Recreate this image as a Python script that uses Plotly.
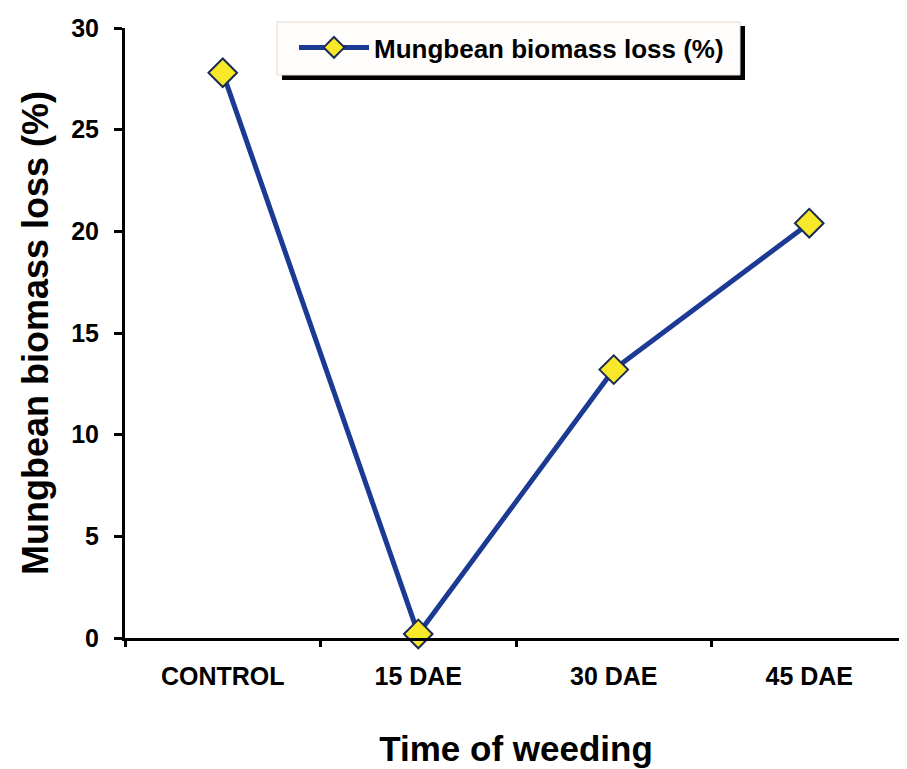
import plotly.graph_objects as go

categories = ["CONTROL", "15 DAE", "30 DAE", "45 DAE"]
biomass_loss = [27.8, 0.2, 13.2, 20.4]
y_ticks = [0, 5, 10, 15, 20, 25, 30]
series_name = "Mungbean biomass loss (%)"

FONT = "Liberation Sans, Arial, sans-serif"

# The page body adds an 8px offset; figure coordinates = screen - 8
OFF = 8
W, H = 907, 769
L = 125 - OFF          # y axis at screen x=125
T = 28 - OFF           # y=30 at screen y=28
B = H - (638 - OFF)    # y=0 at screen y=638
R = OFF                # plot reaches right edge of window
PW = W - L - R
PH = H - T - B


def px(xs):
    return (xs - OFF - L) / PW


def py(ys):
    return (H - B - (ys - OFF)) / PH


fig = go.Figure()
fig.add_trace(go.Scatter(
    x=categories, y=biomass_loss, mode="lines+markers", name=series_name,
    line=dict(color="#1c3a94", width=5),
    marker=dict(symbol="diamond", size=22, color="#f7e92a",
                line=dict(color="#1b2b55", width=2)),
    showlegend=True, cliponaxis=False,
))

shapes = [
    # legend shadow
    dict(type="rect", xref="paper", yref="paper",
         x0=px(282), x1=px(745), y0=py(80), y1=py(26),
         fillcolor="black", line=dict(width=0), layer="above"),
    # legend box
    dict(type="rect", xref="paper", yref="paper",
         x0=px(277), x1=px(740), y0=py(75), y1=py(22),
         fillcolor="#fffdfb", line=dict(color="#e6d8cc", width=1), layer="above"),
]

fig.update_layout(
    width=W, height=H,
    margin=dict(l=L, r=R, t=T, b=B, autoexpand=False),
    paper_bgcolor="white", plot_bgcolor="white",
    font=dict(family=FONT, color="black"),
    showlegend=True,
    shapes=shapes,
    legend=dict(
        x=px(294), y=py(24), xanchor="left", yanchor="top",
        bgcolor="rgba(0,0,0,0)", borderwidth=0,
        font=dict(family=FONT, size=26, color="black", weight="bold"),
        itemwidth=70,
    ),
    xaxis=dict(
        type="category", range=[-0.5, 3.5],
        showline=True, linecolor="black", linewidth=3,
        ticks="outside", tickson="boundaries", ticklen=6, tickwidth=3,
        tickcolor="black", ticklabelstandoff=14,
        tickfont=dict(family=FONT, size=25, color="black", weight="bold"),
        showgrid=False, zeroline=False,
        title=dict(text="Time of weeding", standoff=48,
                   font=dict(family=FONT, size=35, color="black", weight="bold")),
    ),
    yaxis=dict(
        range=[0, 30], tickvals=y_ticks,
        showline=True, linecolor="black", linewidth=3,
        ticks="outside", ticklen=8, tickwidth=3, tickcolor="black",
        ticklabelstandoff=10,
        tickfont=dict(family=FONT, size=25, color="black", weight="bold"),
        showgrid=False, zeroline=False,
        title=dict(text="Mungbean biomass loss (%)", standoff=12,
                   font=dict(family=FONT, size=36, color="black", weight="bold")),
    ),
)

fig.write_html("out.html")
